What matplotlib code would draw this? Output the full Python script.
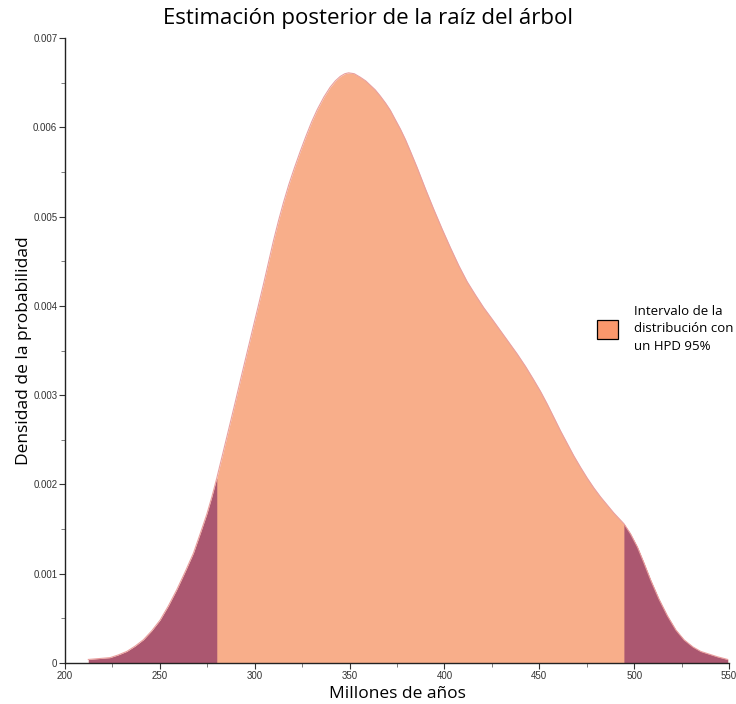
import numpy as np
import matplotlib.pyplot as plt
from matplotlib.patches import Patch
from matplotlib.ticker import MultipleLocator

# Posterior density of the root age
edad = [212.3, 218.0, 223.7, 228.0, 232.6, 237.0, 241.3, 245.7, 250.1, 254.5,
        258.9, 263.3, 267.7, 271.3, 274.8, 277.4, 280.0, 283.0, 286.2, 289.5,
        292.5, 296.0, 299.4, 302.0, 304.6, 307.3, 309.9, 312.5, 315.2, 318.0,
        321.0, 324.0, 327.0, 330.0, 333.0, 336.5, 339.8, 342.5, 345.1, 347.5,
        349.5, 352.5, 355.7, 358.5, 361.0, 363.5, 366.2, 369.0, 371.5, 374.0,
        376.8, 379.5, 382.1, 385.6, 390.0, 394.4, 398.8, 403.2, 407.6, 412.0,
        416.4, 420.7, 425.2, 429.6, 434.0, 438.4, 442.8, 447.1, 450.7, 454.2,
        457.7, 461.2, 464.7, 468.2, 471.8, 475.3, 478.8, 482.3, 485.8, 489.3,
        494.6, 498.0, 501.7, 505.0, 508.7, 513.0, 517.5, 522.0, 526.3, 531.0,
        535.1, 539.5, 543.9, 549.3]
densidad = [0.00004, 0.00005, 0.00006, 0.00009, 0.00013, 0.00019, 0.00026, 0.00036, 0.00048, 0.00064,
            0.00082, 0.00102, 0.00123, 0.00145, 0.00167, 0.00186, 0.00207, 0.00233, 0.00261, 0.00290,
            0.00317, 0.00348, 0.00378, 0.00401, 0.00424, 0.00449, 0.00473, 0.00495, 0.00516, 0.00536,
            0.00555, 0.00573, 0.00590, 0.00606, 0.00620, 0.00634, 0.00645, 0.00652, 0.00657, 0.00660,
            0.00661, 0.00660, 0.00656, 0.00652, 0.00647, 0.00642, 0.00635, 0.00627, 0.00619, 0.00609,
            0.00598, 0.00586, 0.00573, 0.00555, 0.00531, 0.00508, 0.00486, 0.00465, 0.00445, 0.00427,
            0.00412, 0.00398, 0.00385, 0.00372, 0.00359, 0.00346, 0.00332, 0.00317, 0.00304, 0.00290,
            0.00275, 0.00260, 0.00246, 0.00232, 0.00219, 0.00207, 0.00196, 0.00186, 0.00177, 0.00168,
            0.00156, 0.00145, 0.00130, 0.00113, 0.00093, 0.00072, 0.00053, 0.00037, 0.00026, 0.00018,
            0.00013, 0.00010, 0.00007, 0.00004]
hpd_bajo = 280.0
hpd_alto = 494.6

x = np.array(edad)
y = np.array(densidad)

fig = plt.figure(figsize=(7.36, 7.04), dpi=100)
ax = fig.add_axes([0.0883, 0.0582, 0.9022, 0.8878])

ax.fill_between(x, 0, y, color='#F8AE8A', linewidth=0)
ax.fill_between(x, 0, y, where=x <= hpd_bajo, color='#AB5770', linewidth=0)
ax.fill_between(x, 0, y, where=x >= hpd_alto, color='#AB5770', linewidth=0)
ax.plot(x, y, color='#E9A0A0', linewidth=0.8)

ax.set_xlim(200, 550)
ax.set_ylim(0, 0.007)
ax.xaxis.set_major_locator(MultipleLocator(50))
ax.xaxis.set_minor_locator(MultipleLocator(25))
ax.yaxis.set_minor_locator(MultipleLocator(0.0005))
ax.set_yticks(np.arange(0, 0.0071, 0.001))
ax.set_yticklabels(['0', '0.001', '0.002', '0.003', '0.004', '0.005', '0.006', '0.007'])

for s in ['top', 'right']:
    ax.spines[s].set_visible(False)
for s in ['left', 'bottom']:
    ax.spines[s].set_color('#222222')
    ax.spines[s].set_linewidth(1.0)

ax.tick_params(which='major', length=4, width=0.8, color='#333333',
               labelsize=7, labelcolor='#333333', pad=1.5)
ax.tick_params(which='minor', length=3, width=0.6, color='#666666')
for lab in ax.get_xticklabels() + ax.get_yticklabels():
    lab.set_family('Liberation Sans')

fig.suptitle('Estimación posterior de la raíz del árbol', family='Open Sans',
             fontsize=16, y=0.988, va='top')
ax.set_xlabel('Millones de años', family='Open Sans', fontsize=12.5, labelpad=4)
ax.set_ylabel('Densidad de la probabilidad', family='Open Sans', fontsize=12.5, labelpad=1)

handle = Patch(facecolor='#F9986C', edgecolor='black', linewidth=0.9,
               label='Intervalo de la\ndistribución con\nun HPD 95%')
leg = ax.legend(handles=[handle], loc='center left', bbox_to_anchor=(0.783, 0.535),
                frameon=False, handlelength=1.6, handleheight=1.9, handletextpad=1.2,
                prop={'family': 'Open Sans', 'size': 9.5})
for t in leg.get_texts():
    t.set_linespacing(1.45)

fig.savefig('out.png', dpi=100)
